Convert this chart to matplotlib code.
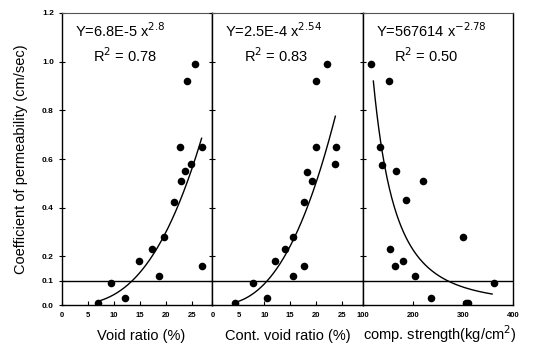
import numpy as np
import matplotlib
matplotlib.use("Agg")
import matplotlib.pyplot as plt

plt.rcParams['font.family'] = ['Liberation Sans', 'DejaVu Sans']

# permeability (cm/sec) against three variables
void_ratio = [6.9, 9.5, 12.1, 14.9, 17.4, 18.7, 19.7, 21.5, 22.8, 23.0, 23.7, 24.1, 24.9, 25.6, 26.9, 26.9]
perm_void = [0.01, 0.09, 0.03, 0.18, 0.23, 0.12, 0.28, 0.425, 0.65, 0.51, 0.55, 0.92, 0.58, 0.99, 0.65, 0.16]

cont_void = [4.4, 7.8, 10.6, 12.0, 13.9, 15.6, 15.6, 17.6, 17.6, 18.2, 19.2, 20.0, 20.0, 22.0, 23.9, 23.7]
perm_cont = [0.01, 0.09, 0.03, 0.18, 0.23, 0.28, 0.12, 0.16, 0.425, 0.545, 0.51, 0.92, 0.65, 0.99, 0.65, 0.58]

strength = [116, 153, 135, 139, 167, 221, 186, 299, 154, 180, 165, 205, 361, 236, 310, 305]
perm_str = [0.99, 0.92, 0.65, 0.575, 0.55, 0.51, 0.43, 0.28, 0.23, 0.18, 0.16, 0.12, 0.09, 0.03, 0.01, 0.01]

# regression coefficients printed on the chart: Y = a * x^b
fit_a = [6.8e-5, 2.5e-4, 567614]
fit_b = [2.8, 2.54, -2.78]
fit_range = [(7, 26.9), (4.4, 23.7), (121, 358)]
fit_text = ["Y=6.8E-5 x$^{2.8}$", "Y=2.5E-4 x$^{2.54}$", "Y=567614 x$^{-2.78}$"]
r2_text = ["R$^2$ = 0.78", "R$^2$ = 0.83", "R$^2$ = 0.50"]

xlabels = ["Void ratio (%)", "Cont. void ratio (%)", "comp. strength(kg/cm$^2$)"]
xlabel_pos = [141, 288, 440]  # pixel centres
xlims = [(0, 29), (0, 29), (100, 400)]
xticks = [[0, 5, 10, 15, 20, 25], [0, 5, 10, 15, 20, 25], [100, 200, 300, 400]]
yticks = [0.0, 0.1, 0.2, 0.4, 0.6, 0.8, 1.0, 1.2]

fig, axes = plt.subplots(1, 3, figsize=(5.5, 3.51), dpi=100, sharey=True)
fig.subplots_adjust(left=0.113, right=0.933, top=0.963, bottom=0.131, wspace=0)

xs = [void_ratio, cont_void, strength]
ys = [perm_void, perm_cont, perm_str]

for i, ax in enumerate(axes):
    ax.scatter(xs[i], ys[i], s=30, color='black', zorder=3, linewidths=0)
    lo, hi = fit_range[i]
    xx = np.linspace(lo, hi, 200)
    ax.plot(xx, fit_a[i] * xx ** fit_b[i], color='black', lw=1)
    ax.axhline(0.1, color='black', lw=1)
    ax.set_xlim(*xlims[i])
    ax.set_ylim(0, 1.2)
    ax.set_xticks(xticks[i])
    ax.set_xticklabels([str(t) for t in xticks[i]], fontsize=5.5, fontweight='bold')
    ax.tick_params(axis='x', direction='in', length=3, pad=5)
    ax.tick_params(axis='y', direction='inout', length=5, labelsize=6)
    for sp in ax.spines.values():
        sp.set_linewidth(1)
    ax.spines['top'].set_color('#555555')
    ax.spines['top'].set_linewidth(0.8)
    ax.text(0.086, 0.938, fit_text[i], transform=ax.transAxes, fontsize=10.5,
            va='center', ha='left')
    ax.text(0.42, 0.853, r2_text[i], transform=ax.transAxes, fontsize=10.5,
            va='center', ha='center')
    fig.text(xlabel_pos[i] / 550, 1 - 340 / 351, xlabels[i], fontsize=10.5,
             ha='center', va='baseline')

axes[0].set_yticks(yticks)
axes[0].set_yticklabels(["%.1f" % t for t in yticks], fontweight='bold')
axes[0].set_ylabel("Coefficient of permeability (cm/sec)", fontsize=10.5, labelpad=10)
for ax in axes[1:]:
    ax.tick_params(axis='y', labelleft=False)

fig.savefig("out.png", dpi=100)
